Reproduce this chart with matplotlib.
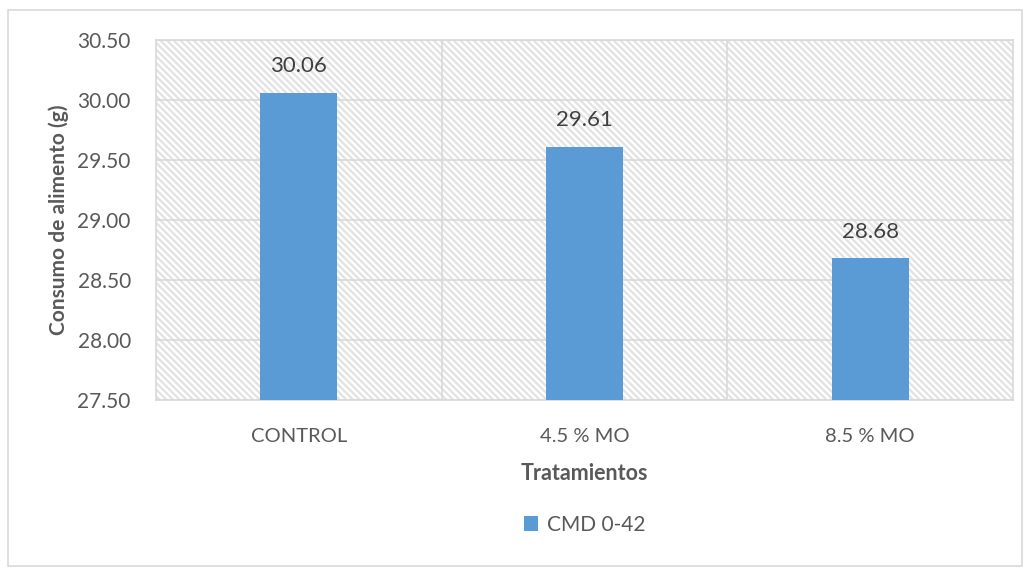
import matplotlib.pyplot as plt
from matplotlib.patches import Rectangle
from matplotlib.ticker import FixedLocator

tratamientos = ["CONTROL", "4.5 % MO", "8.5 % MO"]
consumo = [30.06, 29.61, 28.68]
serie = "CMD 0-42"
y_ticks = [27.5, 28.0, 28.5, 29.0, 29.5, 30.0, 30.5]

plt.rcParams['font.family'] = ['Lato', 'DejaVu Sans']
plt.rcParams['hatch.color'] = '#e2e2e2'
plt.rcParams['hatch.linewidth'] = 1.6

txt = '#595959'
grid = '#d9d9d9'
azul = '#5b9bd5'

fig = plt.figure(figsize=(10.32, 5.69), dpi=100)
ax = fig.add_axes([0.151, 0.297, 0.8306, 0.633])

# marco exterior del grafico
fig.patches.append(Rectangle((8 / 1032, 3 / 569), 1014 / 1032, 556 / 569,
                             transform=fig.transFigure, fill=False,
                             edgecolor=grid, linewidth=1.2))

# fondo rayado del area de trazado
ax.patch.set_hatch('\\' * 5)
ax.patch.set_edgecolor('#e2e2e2')

x = range(len(tratamientos))
bars = ax.bar(x, consumo, width=0.27, color=azul, label=serie, zorder=3)

for b, v in zip(bars, consumo):
    ax.annotate(f"{v:.2f}", (b.get_x() + b.get_width() / 2, v),
                xytext=(0, 19), textcoords='offset points',
                ha='center', va='center', fontsize=16, color='#404040', zorder=4)

ax.set_xlim(-0.5, 2.5)
ax.set_ylim(27.5, 30.5)
ax.set_yticks(y_ticks)
ax.set_yticklabels([f"{t:.2f}" for t in y_ticks])
ax.set_xticks(list(x))
ax.set_xticklabels(tratamientos)
ax.xaxis.set_minor_locator(FixedLocator([0.5, 1.5]))

ax.tick_params(axis='both', which='both', length=0, colors=txt)
ax.tick_params(axis='x', pad=20, labelsize=14.5)
ax.tick_params(axis='y', pad=18, labelsize=15)

ax.grid(axis='y', which='major', color=grid, linewidth=1.2, zorder=1)
ax.grid(axis='x', which='minor', color=grid, linewidth=1.2, zorder=1)
ax.grid(axis='x', which='major', visible=False)
ax.set_axisbelow(True)

for s in ax.spines.values():
    s.set_color(grid)
    s.set_linewidth(1.2)

ax.set_xlabel('Tratamientos', fontsize=15.5, fontweight='bold', color=txt, labelpad=13)
ax.set_ylabel('Consumo de alimento (g)', fontsize=15, fontweight='bold', color=txt, labelpad=6)

ax.legend(loc='center', bbox_to_anchor=(0.5, -0.347), frameon=False,
          fontsize=15, labelcolor=txt, handlelength=0.7, handleheight=0.7,
          handletextpad=0.4)

fig.savefig('out.png', dpi=100)
